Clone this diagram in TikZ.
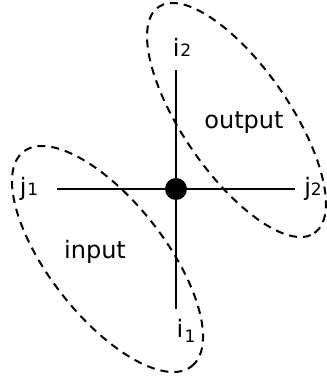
\documentclass[tikz,border=0pt]{standalone}
\usepackage{fontspec}
\setmainfont{DejaVu Sans}
\begin{document}
\begin{tikzpicture}[x=1pt,y=-1pt,
  leg/.style={line width=2.3pt},
  loop/.style={line width=2pt, dash pattern=on 8pt off 6pt},
  lbl/.style={anchor=base, inner sep=0pt, font=\fontsize{24}{24}\selectfont}]
\newcommand\subtxt[1]{{\fontsize{17}{17}\selectfont #1}}
\useasboundingbox (0,0) rectangle (326,379);
% ellipses
\draw[loop, rotate around={-55.4:(236.5,120)}] (236.5,120) ellipse [x radius=137.3pt, y radius=53.3pt];
\draw[loop, rotate around={-51.9:(107.5,259)}] (107.5,259) ellipse [x radius=136.3pt, y radius=57.6pt];
% vertex and legs
\node[circle, fill=black, inner sep=0pt, minimum size=22pt] (v) at (176,189) {};
\coordinate (top) at (176,70);
\coordinate (bot) at (176,309);
\coordinate (lft) at (57,189);
\coordinate (rgt) at (295,189);
\draw[leg] (v.center) -- (top);
\draw[leg] (v.center) -- (bot);
\draw[leg] (v.center) -- (lft);
\draw[leg] (v.center) -- (rgt);
% labels
\node[lbl] (i2) at (182,57) {i\kern1pt\subtxt{2}};
\node[lbl] (i1) at (186,337) {i\kern1.5pt\raisebox{-5pt}{\subtxt{1}}};
\node[lbl] (j1) at (29,195) {j\kern1pt\subtxt{1}};
\node[lbl] (j2) at (313,195) {j\kern0pt\subtxt{2}};
\node[lbl] (out) at (244,129) {output};
\node[lbl] (in) at (95,258) {input};
\end{tikzpicture}
\end{document}
